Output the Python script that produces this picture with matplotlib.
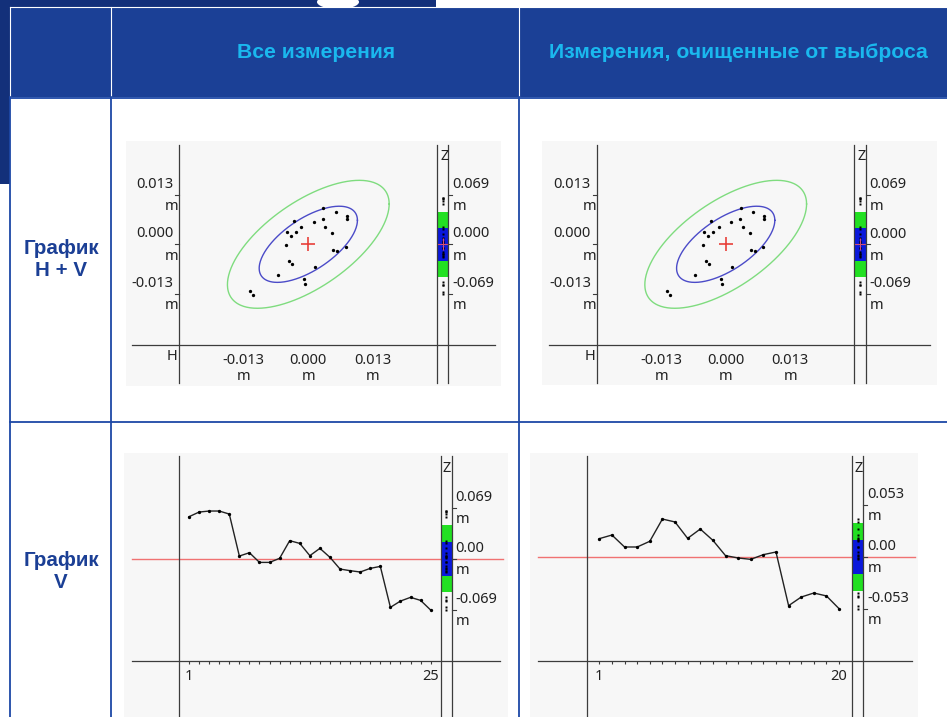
import matplotlib
matplotlib.use("Agg")
import matplotlib.pyplot as plt
import matplotlib.transforms as mtrans
from matplotlib.patches import Rectangle, Ellipse
import numpy as np

# ---------------- data ----------------
header_cols = ["Все измерения", "Измерения, очищенные от выброса"]
row_labels = ["График\nH + V", "График\nV"]

hv_x = [0.00302, 0.00552, 0.00774, 0.00774, -0.00288, 0.00115, 0.00290, -0.00141,
        0.00343, -0.00435, -0.00248, -0.00355, 0.00484, -0.00456, 0.00504, 0.00584,
        0.00760, -0.00389, -0.00329, 0.00135, -0.00617, -0.00087, -0.00073, -0.01175,
        -0.01121]
hv_y = [0.00945, 0.00856, 0.00751, 0.00657, 0.00612, 0.00594, 0.00664, 0.00462,
        0.00462, 0.00315, 0.00331, 0.00218, 0.00289, -0.00018, -0.00150, -0.00168,
        -0.00063, -0.00431, -0.00509, -0.00604, -0.00814, -0.00919, -0.01043, -0.01234,
        -0.01339]
v_all = [0.0568, 0.0631, 0.0645, 0.0645, 0.0604, 0.0036, 0.0081, -0.0050, -0.0050,
         0.0005, 0.0244, 0.0207, 0.0041, 0.0140, 0.0018, -0.0140, -0.0162, -0.0180,
         -0.0131, -0.0104, -0.0658, -0.0573, -0.0523, -0.0564, -0.0695]
v_clean = [0.0187, 0.0224, 0.0102, 0.0102, 0.0160, 0.0387, 0.0357, 0.0190, 0.0285,
           0.0170, 0.0014, -0.0010, -0.0024, 0.0024, 0.0051, -0.0496, -0.0408, -0.0367,
           -0.0397, -0.0527]

hv_tick_vals = [-0.013, 0.0, 0.013]
hv_tick_labels = ["-0.013", "0.000", "0.013"]
hv_ytick_labels = ["-0.013", "0.000", "0.013"]
hv_ztick_vals = [0.069, 0.0, -0.069]
hv_ztick_labels = ["0.069", "0.000", "-0.069"]
v_all_ztick_vals = [0.069, 0.0, -0.069]
v_all_ztick_labels = ["0.069", "0.00", "-0.069"]
v_clean_ztick_vals = [0.053, 0.0, -0.053]
v_clean_ztick_labels = ["0.053", "0.00", "-0.053"]

ellipse_inner = (0.0099, 0.0100)   # half extents (H, V)
ellipse_outer = (0.0163, 0.0168)
ellipse_rho = 0.63
band_all = (0.0228, 0.0452)        # blue, green half-heights
band_clean = (0.0170, 0.0345)

# ---------------- style ----------------
W, H, DPI = 947, 717, 100
PANEL = "#f7f7f7"
AXC = "#3c3c3c"
TABLE = "#1d48a6"
HEAD_BG = "#1b4096"
NAVY = "#13307a"
CYAN = "#1ab8ee"
ROWC = "#1b3f95"
GREEN = "#22e022"
BLUE = "#0a18dc"
FS = 10.5
TFONT = "Noto Sans"

fig = plt.figure(figsize=(W / DPI, H / DPI), dpi=DPI)
fig.patch.set_facecolor("white")

bg = fig.add_axes([0, 0, 1, 1], zorder=0)
bg.set_xlim(0, W); bg.set_ylim(H, 0); bg.axis("off")
ov = fig.add_axes([0, 0, 1, 1], zorder=10)
ov.set_xlim(0, W); ov.set_ylim(H, 0); ov.axis("off")
ov.patch.set_alpha(0)

blend = mtrans.blended_transform_factory


def off(trans, dx=0.0, dy=0.0):
    return mtrans.offset_copy(trans, fig=fig, x=dx, y=dy, units="dots")


def data_axes(l, t, r, b, xa_px, xa_val, x_ppu, ya_px, ya_val, y_ppu, z=2):
    ax = fig.add_axes([l / W, 1 - b / H, (r - l) / W, (b - t) / H], zorder=z)
    ax.set_xlim(xa_val + (l - xa_px) / x_ppu, xa_val + (r - xa_px) / x_ppu)
    ax.set_ylim(ya_val - (b - ya_px) / y_ppu, ya_val - (t - ya_px) / y_ppu)
    ax.axis("off")
    ax.patch.set_alpha(0)
    return ax


def txt(x, y, s, trans, **kw):
    kw.setdefault("fontsize", FS)
    kw.setdefault("family", TFONT)
    kw.setdefault("color", "#222222")
    ov.text(x, y, s, transform=trans, **kw)


# ---------------- table ----------------
bg.add_patch(Rectangle((0, 0), 436, 7, fc=NAVY, ec="none"))
bg.add_patch(Ellipse((338, 2), 42, 14, fc="white", ec="none"))
bg.add_patch(Rectangle((0, 0), 10, 184, fc=NAVY, ec="none"))
bg.add_patch(Rectangle((10, 7), W - 10, 90, fc=HEAD_BG, ec="none"))
for xv in (111, 519.3):
    bg.plot([xv, xv], [7, 97], color="white", lw=0.8)
bg.plot([10, W], [7.3, 7.3], color="white", lw=0.8)
bg.plot([10.3, 10.3], [7, 97], color="white", lw=0.8)
for xv in (10.3, 111, 519.3):
    bg.plot([xv, xv], [97, H], color=TABLE, lw=1.3)
for yv in (97.5, 422.3):
    bg.plot([10, W], [yv, yv], color=TABLE, lw=1.3)

for xc, s in zip((316, 738), header_cols):
    ov.text(xc, 52, s, ha="center", va="center", fontsize=15.2, weight="bold",
            family="Liberation Sans", color=CYAN, transform=ov.transData)
for yc, s in zip((259, 572), row_labels):
    ov.text(61, yc, s, ha="center", va="center", fontsize=14.8, weight="bold",
            family="Liberation Sans", color=ROWC, linespacing=1.2,
            transform=ov.transData)


# ---------------- H + V panels ----------------
def hv_panel(box, cx, axis_x, hline, z_l, z_r, xs, ys, zs):
    l, t, r, b = box
    cy, axis_y = 244.3, 345
    xppu, yppu, zppu = 64.5 / 0.013, 49.5 / 0.013, 49.5 / 0.069
    bg.add_patch(Rectangle((l, t), r - l, b - t, fc=PANEL, ec="none"))
    ax = data_axes(l, t, r, b, cx, 0.0, xppu, cy, 0.0, yppu)
    zx = data_axes(z_l, t, z_r, b, z_l, 0.0, z_r - z_l, cy, 0.0, zppu, z=3)

    tt = np.linspace(0, 2 * np.pi, 300)
    for (hx, hy), col in ((ellipse_outer, "#7fdc7f"), (ellipse_inner, "#4b4bc8")):
        ex = hx * np.cos(tt)
        ey = hy * (ellipse_rho * np.cos(tt) + np.sqrt(1 - ellipse_rho ** 2) * np.sin(tt))
        ax.plot(ex, ey, color=col, lw=1.0)
    ax.plot(xs, ys, "o", color="black", ms=2.4, mec="none")
    ax.plot([0], [0], "+", color="#e8403a", ms=10, mew=1.2)

    zb, zg = band_all
    zx.add_patch(Rectangle((0, -zg), 1, 2 * zg, fc=GREEN, ec="none"))
    zx.add_patch(Rectangle((0, -zb), 1, 2 * zb, fc=BLUE, ec="none"))
    zx.plot([0.5] * len(zs), zs, "s", color="black", ms=1.8, mec="none")
    zx.plot([0.5], [0], "+", color="#d0507a", ms=8, mew=0.8)

    # frame lines
    ov.plot([axis_x, axis_x], [145, 383], color=AXC, lw=0.9)
    ov.plot(list(hline), [axis_y, axis_y], color=AXC, lw=0.9)
    for xv in (z_l, z_r):
        ov.plot([xv, xv], [145, 383], color=AXC, lw=0.9)

    # left (V) ticks
    tl = blend(ov.transData, ax.transData)
    for v, s in zip(hv_tick_vals, hv_ytick_labels):
        ov.plot([axis_x - 4, axis_x], [v, v], color=AXC, lw=0.8, transform=tl)
        txt(axis_x - 6, v, s, off(tl, 0, 6.8), ha="right", va="baseline")
        txt(axis_x - 1, v, "m", off(tl, 0, -15.4), ha="right", va="baseline")
    # bottom (H) ticks
    tb = blend(ax.transData, ov.transData)
    for v, s in zip(hv_tick_vals, hv_tick_labels):
        txt(v, 364.0, s, tb, ha="center", va="baseline")
        txt(v, 379.5, "m", tb, ha="center", va="baseline")
    txt(axis_x - 7, 360, "H", ov.transData, ha="center", va="baseline")
    # right (Z) ticks
    tz = blend(ov.transData, zx.transData)
    for v, s in zip(hv_ztick_vals, hv_ztick_labels):
        ov.plot([z_r, z_r + 4], [v, v], color=AXC, lw=0.8, transform=tz)
        txt(z_r + 4, v, s, off(tz, 0, 6.8), ha="left", va="baseline")
        txt(z_r + 4, v, "m", off(tz, 0, -15.4), ha="left", va="baseline")
    txt(z_r - 4, 160.2, "Z", ov.transData, ha="center", va="baseline")


hv_panel((126, 141, 501, 386), 308.3, 179.3, (131.7, 495), 436.7, 448.3, hv_x, hv_y, v_all)
hv_panel((542, 141, 937, 385), 725.7, 597.0, (549, 930), 854.3, 865.5, hv_x, hv_y, v_all)


# ---------------- V panels ----------------
def v_panel(box, x0, xppu, cy, yppu, axis_x, hline, z_l, z_r, vals, zvals, zlabels, band):
    l, t, r, b = box
    axis_y = 660.7
    bg.add_patch(Rectangle((l, t), r - l, b - t, fc=PANEL, ec="none"))
    ax = data_axes(l, t, r, b, x0, 1.0, xppu, cy, 0.0, yppu)
    zx = data_axes(z_l, t, z_r, b, z_l, 0.0, z_r - z_l, cy, 0.0, yppu, z=3)
    idx = np.arange(1, len(vals) + 1)

    ax.axhline(0, xmin=(hline[0] - l) / (r - l), xmax=(hline[1] + 3 - l) / (r - l),
               color="#f07272", lw=1.0)
    ax.plot(idx, vals, "-", color="#222222", lw=1.0)
    ax.plot(idx, vals, "o", color="black", ms=2.4, mec="none")

    zb, zg = band
    zx.add_patch(Rectangle((0, -zg), 1, 2 * zg, fc=GREEN, ec="none"))
    zx.add_patch(Rectangle((0, -zb), 1, 2 * zb, fc=BLUE, ec="none"))
    zx.plot([0.5] * len(vals), vals, "s", color="black", ms=1.8, mec="none")

    ov.plot([axis_x, axis_x], [t + 3, H], color=AXC, lw=0.9)
    ov.plot(list(hline), [axis_y, axis_y], color=AXC, lw=0.9)
    for xv in (z_l, z_r):
        ov.plot([xv, xv], [t + 3, H], color=AXC, lw=0.9)

    tb = blend(ax.transData, ov.transData)
    ov.vlines(idx, axis_y, axis_y + 3, color=AXC, lw=0.8, transform=tb)
    for i in (idx[0], idx[-1]):
        txt(i, 680.2, str(i), tb, ha="center", va="baseline")

    tz = blend(ov.transData, zx.transData)
    for v, s in zip(zvals, zlabels):
        ov.plot([z_r, z_r + 4], [v, v], color=AXC, lw=0.8, transform=tz)
        txt(z_r + 4, v, s, off(tz, 0, 6.8), ha="left", va="baseline")
        txt(z_r + 4, v, "m", off(tz, 0, -15.4), ha="left", va="baseline")
    txt(z_r - 5, t + 19, "Z", ov.transData, ha="center", va="baseline")


v_panel((124, 453, 508, 717), 189.0, 10.07, 558.7, 51 / 0.069, 179.3, (131.7, 500),
        441.0, 451.7, v_all, v_all_ztick_vals, v_all_ztick_labels, band_all)
v_panel((530, 453, 918, 717), 599.3, 12.62, 557.0, 52 / 0.053, 586.7, (538, 912),
        851.7, 863.3, v_clean, v_clean_ztick_vals, v_clean_ztick_labels, band_clean)

fig.savefig("out.png", dpi=DPI)
